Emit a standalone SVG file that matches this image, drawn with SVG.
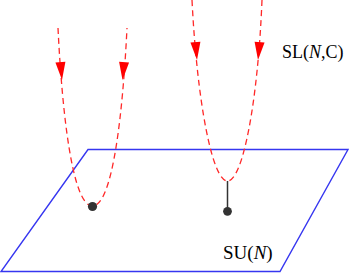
<svg xmlns="http://www.w3.org/2000/svg" width="352" height="273" viewBox="0 0 352 273">
<style>
.plane{fill:none;stroke:#3636f0;stroke-width:1.4}
.flow{fill:none;stroke:#ff2828;stroke-width:1.3;stroke-dasharray:6,4}
.arr{fill:#ff0000}
.dot{fill:#333333}
.stem{stroke:#333333;stroke-width:1.5}
.lbl{font-family:"Liberation Serif","Times New Roman",serif;fill:#000}
</style>
<defs>
<path id="ah" class="arr" d="M0,0 L-5,-18 L5,-18 Z"/>
</defs>
<g id="plane">
<polygon class="plane" points="88,149.5 348,149.5 280,271.5 1,271.5"/>
</g>
<g id="connectors">
<path class="flow" d="M58,28 C62,110 72,206 92.5,206 C113,206 123,110 127,28"/>
<path class="flow" d="M192,0 C197,100 212,181 227.5,181 C243,181 258,100 262,0"/>
<line class="stem" x1="227.5" y1="181" x2="227.5" y2="209"/>
<use href="#ah" transform="translate(62,80) rotate(-5)"/>
<use href="#ah" transform="translate(122.5,80) rotate(5)"/>
<use href="#ah" transform="translate(197,60) rotate(-5)"/>
<use href="#ah" transform="translate(258,60) rotate(5)"/>
</g>
<g id="node-min1">
<circle class="dot" cx="92.5" cy="206.5" r="4.6"/>
</g>
<g id="node-min2">
<circle class="dot" cx="227.5" cy="211.3" r="4.4"/>
</g>
<g id="label-SL">
<text class="lbl" x="282" y="58" font-size="18">SL(<tspan font-style="italic">N</tspan>,C)</text>
</g>
<g id="label-SU">
<text class="lbl" x="223" y="259" font-size="19">SU(<tspan font-style="italic">N</tspan>)</text>
</g>
</svg>
